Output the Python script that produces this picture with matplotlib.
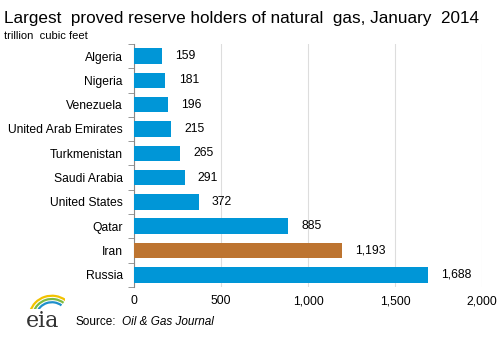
import matplotlib.pyplot as plt
import numpy as np
from matplotlib.patches import Arc

plt.rcParams['font.family'] = ['Liberation Sans', 'DejaVu Sans']

# Data (trillion cubic feet)
countries = ['Algeria', 'Nigeria', 'Venezuela', 'United Arab Emirates', 'Turkmenistan',
             'Saudi Arabia', 'United States', 'Qatar', 'Iran', 'Russia']
reserves = [159, 181, 196, 215, 265, 291, 372, 885, 1193, 1688]
highlight = 'Iran'

blue = '#0096D7'
brown = '#BD7430'
colors = [brown if c == highlight else blue for c in countries]

fig = plt.figure(figsize=(5, 3.38), dpi=100)
ax = fig.add_axes([0.268, 0.151, 0.696, 0.719])

y = np.arange(len(countries))
ax.barh(y, reserves, height=0.64, color=colors, zorder=3)
ax.set_ylim(len(countries) - 0.5, -0.5)
ax.set_xlim(0, 2000)
ax.set_xticks([0, 500, 1000, 1500, 2000])
ax.set_xticklabels(['0', '500', '1,000', '1,500', '2,000'])
ax.set_yticks(y)
ax.set_yticklabels(countries)
ax.set_yticks(np.arange(-0.5, len(countries), 1), minor=True)
ax.tick_params(axis='y', which='major', length=0, labelsize=8.7, pad=8)
ax.tick_params(axis='y', which='minor', length=4, color='#888888', direction='out')
ax.tick_params(axis='x', length=0, labelsize=8.7, pad=6)

for yy, v in zip(y, reserves):
    ax.annotate(f'{v:,}', (v, yy), xytext=(9.5, 0), textcoords='offset points',
                va='center', ha='left', fontsize=8.7)

ax.grid(axis='x', color='#DDDDDD', linewidth=0.8, zorder=0)
for s in ['top', 'right', 'bottom']:
    ax.spines[s].set_visible(False)
ax.spines['left'].set_color('#888888')

fig.text(0.008, 0.945, 'Largest  proved reserve holders of natural  gas, January  2014',
         fontsize=12.3, va='center', ha='left')
fig.text(0.008, 0.893, 'trillion  cubic feet', fontsize=8, va='center', ha='left')

fig.text(0.152, 0.03, 'Source:', fontsize=8.5, va='bottom', ha='left')
fig.text(0.244, 0.03, 'Oil & Gas Journal', fontsize=8.5, style='italic', va='bottom', ha='left')

# eia logo
fig.text(0.052, 0.018, 'eia', fontsize=16, family='DejaVu Serif', color='#333333',
         va='bottom', ha='left')
lax = fig.add_axes([0.055, 0.085, 0.075, 0.08])
lax.set_xlim(0, 1)
lax.set_ylim(0, 1)
lax.axis('off')
for r, c in [(1.0, '#F2C200'), (0.85, '#7DBB42'), (0.7, '#1E8FCB')]:
    lax.add_patch(Arc((0.65, -0.3), r * 1.2, r * 1.6, theta1=60, theta2=160,
                      color=c, linewidth=1.6))

fig.savefig('out.png', dpi=100)
